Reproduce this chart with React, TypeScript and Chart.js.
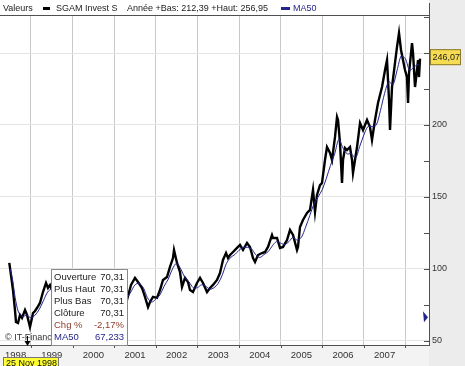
import React, { useEffect, useRef } from "react";
import { Chart, registerables } from "chart.js";

Chart.register(...registerables);

// ---- data ----
const priceDates = [
  1998.478, 1998.519, 1998.567, 1998.615, 1998.639, 1998.688, 1998.736, 1998.784, 1998.856, 1998.904,
  1998.976, 1999.024, 1999.048, 1999.096, 1999.144, 1999.216, 1999.288, 1999.361, 1999.409, 1999.457,
  1999.505, 1999.6, 1999.7, 1999.8, 1999.9, 2000.0, 2000.1, 2000.2, 2000.3, 2000.4,
  2000.5, 2000.6, 2000.7, 2000.8, 2000.9, 2001.0, 2001.1, 2001.2, 2001.308, 2001.404,
  2001.5, 2001.572, 2001.668, 2001.74, 2001.813, 2001.861, 2001.933, 2002.029, 2002.101, 2002.173,
  2002.269, 2002.341, 2002.413, 2002.438, 2002.51, 2002.582, 2002.63, 2002.702, 2002.774, 2002.822,
  2002.894, 2002.99, 2003.063, 2003.135, 2003.231, 2003.303, 2003.375, 2003.471, 2003.543, 2003.615,
  2003.688, 2003.736, 2003.784, 2003.856, 2003.952, 2004.024, 2004.096, 2004.192, 2004.264, 2004.337,
  2004.385, 2004.457, 2004.553, 2004.625, 2004.697, 2004.793, 2004.817, 2004.913, 2004.986, 2005.058,
  2005.154, 2005.226, 2005.298, 2005.394, 2005.418, 2005.466, 2005.538, 2005.635, 2005.707, 2005.779,
  2005.827, 2005.875, 2005.947, 2005.995, 2006.067, 2006.115, 2006.188, 2006.236, 2006.308, 2006.356,
  2006.38, 2006.428, 2006.476, 2006.5, 2006.548, 2006.596, 2006.668, 2006.716, 2006.74, 2006.788,
  2006.837, 2006.909, 2006.981, 2007.029, 2007.077, 2007.149, 2007.197, 2007.269, 2007.341, 2007.389,
  2007.438, 2007.51, 2007.558, 2007.606, 2007.63, 2007.678, 2007.75, 2007.798, 2007.846, 2007.894,
  2007.942, 2007.99, 2008.038, 2008.063, 2008.087, 2008.159, 2008.183, 2008.231, 2008.279, 2008.303,
  2008.327, 2008.351,
];
const priceValues = [
  104.2, 95.8, 85.4, 71.5, 63.2, 62.5, 68.1, 66.0, 71.5, 68.1,
  59.7, 66.0, 69.4, 70.8, 72.9, 76.4, 84.0, 90.3, 86.8, 88.9,
  85.4, 83.0, 80.0, 84.0, 88.0, 91.0, 94.0, 90.0, 86.0, 89.0,
  92.0, 88.0, 85.0, 82.0, 79.0, 77.0, 80.0, 76.0, 78.5, 88.9,
  93.8, 91.0, 86.8, 80.6, 73.6, 77.1, 80.6, 79.9, 85.4, 92.4,
  94.4, 101.4, 107.6, 113.2, 104.2, 97.9, 87.5, 93.8, 91.0, 85.4,
  84.0, 90.3, 93.8, 90.3, 84.0, 86.8, 88.9, 92.4, 97.2, 106.3,
  111.1, 107.6, 109.7, 111.8, 114.6, 116.7, 113.2, 118.1, 115.3, 107.6,
  104.9, 109.7, 111.1, 111.8, 115.3, 123.6, 121.5, 121.5, 114.6, 115.3,
  120.1, 127.1, 123.6, 113.2, 115.3, 129.2, 134.0, 138.9, 141.0, 154.9,
  139.6, 151.4, 158.3, 159.7, 175.7, 184.7, 180.6, 175.7, 191.7, 205.6,
  203.5, 187.5, 159.7, 175.7, 184.0, 182.6, 184.7, 175.7, 166.7, 175.7,
  184.7, 201.4, 196.5, 200.0, 203.5, 198.6, 189.6, 203.5, 215.3, 220.8,
  226.4, 238.2, 245.1, 217.4, 196.5, 226.4, 243.1, 254.2, 263.9, 252.1,
  245.1, 238.2, 233.3, 215.3, 236.1, 256.9, 250.0, 226.4, 238.2, 245.1,
  233.3, 246.07,
];

const maDates = [
  1998.5, 1998.56, 1998.62, 1998.7, 1998.8, 1998.9, 1999.0, 1999.1, 1999.2, 1999.3,
  1999.4, 1999.5, 1999.7, 1999.9, 2000.1, 2000.3, 2000.5, 2000.7, 2000.9, 2001.1,
  2001.3, 2001.4, 2001.5, 2001.6, 2001.7, 2001.8, 2001.9, 2002.0, 2002.1, 2002.2,
  2002.3, 2002.4, 2002.5, 2002.6, 2002.7, 2002.8, 2002.9, 2003.0, 2003.1, 2003.2,
  2003.3, 2003.4, 2003.5, 2003.6, 2003.7, 2003.8, 2003.9, 2004.0, 2004.1, 2004.2,
  2004.3, 2004.4, 2004.5, 2004.6, 2004.7, 2004.8, 2004.9, 2005.0, 2005.1, 2005.2,
  2005.3, 2005.4, 2005.5, 2005.6, 2005.7, 2005.8, 2005.9, 2006.0, 2006.1, 2006.2,
  2006.3, 2006.4, 2006.5, 2006.6, 2006.7, 2006.8, 2006.9, 2007.0, 2007.1, 2007.2,
  2007.3, 2007.4, 2007.5, 2007.6, 2007.7, 2007.8, 2007.9, 2008.0, 2008.1, 2008.2,
  2008.3, 2008.35,
];
const maValues = [
  100, 92, 80, 70, 67, 68, 66, 68, 72, 78,
  84, 86, 84, 85, 88, 88, 87, 86, 82, 79,
  80, 84, 89, 90, 87, 80, 77, 79, 82, 88,
  93, 100, 104, 100, 94, 91, 87, 87, 89, 88,
  86, 87, 90, 96, 104, 108, 110, 113, 115, 115,
  114, 110, 108, 110, 112, 116, 119, 118, 117, 119,
  122, 120, 122, 129, 137, 145, 150, 155, 163, 172,
  180, 190, 184, 180, 180, 177, 185, 193, 199, 199,
  200, 210, 222, 230, 228, 238, 248, 246, 238, 240,
  242, 241,
];

const yearGridValues = [1999, 2000, 2001, 2002, 2003, 2004, 2005, 2006, 2007, 2008];
const xLabelPositions = [1998.63, 1999.5, 2000.5, 2001.5, 2002.5, 2003.5, 2004.5, 2005.5, 2006.5, 2007.5];
const xLabels = ["1998", "1999", "2000", "2001", "2002", "2003", "2004", "2005", "2006", "2007"];
const yTickValues = [50, 75, 100, 125, 150, 175, 200, 225, 250, 275];
const yLabelValues = [50, 100, 150, 200, 250];

const legendSeries = "SGAM Invest S";
const legendYear = "Année +Bas: 212,39 +Haut: 256,95";
const legendMA = "MA50";
const infoLabels = ["Ouverture", "Plus Haut", "Plus Bas", "Clôture", "Chg %", "MA50"];
const infoValues = ["70,31", "70,31", "70,31", "70,31", "-2,17%", "67,233"];
const cursorDate = "25 Nov 1998";
const cursorYear = 1998.9;
const lastValueLabel = "246,07";
const lastValue = 246.07;
const cursorMA = 67.233;

const X_MIN = 1998.255;
const X_MAX = 2008.567;
const Y_MIN = 47.2;
const Y_MAX = 276.4;

const FONT = "'Liberation Sans', Arial, sans-serif";
const BLUE = "#24248c";

const decor = {
  id: "decor",
  beforeDraw(chart: any) {
    const { ctx, chartArea: a, width, height } = chart;
    ctx.save();
    ctx.fillStyle = "#ffffff";
    ctx.fillRect(0, 0, width, height);
    ctx.fillStyle = "#ececec";
    ctx.fillRect(a.right, 0, width - a.right, height);
    ctx.fillStyle = "#f3f3f3";
    ctx.fillRect(0, a.bottom, a.right, height - a.bottom);
    ctx.restore();
  },
  afterDraw(chart: any) {
    const { ctx, chartArea: a } = chart;
    const xs = chart.scales.x;
    const ys = chart.scales.y;
    ctx.save();
    // borders
    ctx.strokeStyle = "#505050";
    ctx.lineWidth = 1;
    ctx.beginPath();
    ctx.moveTo(0, a.top + 0.5);
    ctx.lineTo(a.right, a.top + 0.5);
    ctx.moveTo(a.right + 0.5, 3);
    ctx.lineTo(a.right + 0.5, a.bottom + 1);
    ctx.moveTo(0, a.bottom + 0.5);
    ctx.lineTo(a.right, a.bottom + 0.5);
    ctx.stroke();
    // y ticks inside
    ctx.beginPath();
    yTickValues.forEach((v) => {
      const y = Math.round(ys.getPixelForValue(v)) + 0.5;
      ctx.moveTo(a.right - 5, y);
      ctx.lineTo(a.right, y);
    });
    // x ticks below
    yearGridValues.forEach((v) => {
      const x = Math.round(xs.getPixelForValue(v)) + 0.5;
      ctx.moveTo(x, a.bottom);
      ctx.lineTo(x, a.bottom + 3);
    });
    ctx.stroke();

    // legend row
    ctx.font = `9px ${FONT}`;
    ctx.textBaseline = "middle";
    ctx.fillStyle = "#222";
    ctx.fillText("Valeurs", 3, 8.5);
    ctx.fillStyle = "#000";
    ctx.fillRect(43, 7, 7, 3);
    ctx.fillStyle = "#222";
    ctx.fillText(legendSeries, 56, 8.5);
    ctx.fillText(legendYear, 127, 8.5);
    ctx.fillStyle = BLUE;
    ctx.fillRect(281, 7, 9, 3);
    ctx.fillText(legendMA, 293, 8.5);

    // copyright
    ctx.fillStyle = "#333";
    ctx.font = `9px ${FONT}`;
    ctx.fillText("© IT-Finance", 5, 338);

    // info box
    ctx.fillStyle = "#ffffff";
    ctx.fillRect(51, 269, 77, 77);
    ctx.strokeStyle = "#8a8a8a";
    ctx.strokeRect(51.5, 269.5, 76, 76);
    ctx.font = `9.5px ${FONT}`;
    infoLabels.forEach((lab, i) => {
      const y = 277 + i * 12.1;
      const col = i === 4 ? "#8c3c2c" : i === 5 ? BLUE : "#222";
      ctx.fillStyle = col;
      ctx.textAlign = "left";
      ctx.fillText(lab, 54, y);
      ctx.textAlign = "right";
      ctx.fillText(infoValues[i], 124, y);
    });
    ctx.textAlign = "left";

    // cursor arrow
    const cx = Math.round(xs.getPixelForValue(cursorYear)) + 0.5;
    ctx.strokeStyle = "#000";
    ctx.beginPath();
    ctx.moveTo(cx, 336);
    ctx.lineTo(cx, 344);
    ctx.stroke();
    ctx.fillStyle = "#000";
    ctx.beginPath();
    ctx.moveTo(cx - 3, 341);
    ctx.lineTo(cx + 3, 341);
    ctx.lineTo(cx, 346);
    ctx.closePath();
    ctx.fill();

    // date label
    ctx.font = `9px ${FONT}`;
    ctx.fillStyle = "#ffff33";
    ctx.fillRect(3, 357, 55, 10);
    ctx.strokeStyle = "#777";
    ctx.strokeRect(3.5, 357.5, 55, 10);
    ctx.fillStyle = "#111";
    ctx.fillText(cursorDate, 6, 363.5);

    // last value label
    const ly = ys.getPixelForValue(lastValue) - 1.5;
    ctx.fillStyle = "#f6dc52";
    ctx.fillRect(430, ly - 8, 31, 16);
    ctx.strokeStyle = "#8a7a30";
    ctx.strokeRect(430.5, ly - 7.5, 30, 15);
    ctx.fillStyle = "#222";
    ctx.fillText(lastValueLabel, 432.5, ly + 0.5);

    // MA marker
    const my = ys.getPixelForValue(cursorMA);
    ctx.fillStyle = BLUE;
    ctx.beginPath();
    ctx.moveTo(a.right - 6, my - 5);
    ctx.lineTo(a.right - 1, my + 1);
    ctx.lineTo(a.right - 5, my + 6);
    ctx.closePath();
    ctx.fill();
    ctx.restore();
  },
};

export default function App() {
  const ref = useRef<HTMLCanvasElement | null>(null);
  useEffect(() => {
    if (!ref.current) return;
    const chart = new Chart(ref.current, {
      type: "line",
      data: {
        datasets: [
          {
            label: legendMA,
            data: maDates.map((d, i) => ({ x: d, y: maValues[i] })),
            borderColor: BLUE,
            borderWidth: 1,
            pointRadius: 0,
            tension: 0.3,
          },
          {
            label: legendSeries,
            data: priceDates.map((d, i) => ({ x: d, y: priceValues[i] })),
            borderColor: "#000000",
            borderWidth: 2.4,
            pointRadius: 0,
            tension: 0,
          },
        ],
      },
      options: {
        responsive: false,
        maintainAspectRatio: false,
        animation: false,
        layout: { padding: { top: 15, left: 0, right: 0, bottom: 0 } },
        plugins: { legend: { display: false }, tooltip: { enabled: false } },
        scales: {
          x: {
            type: "linear",
            min: X_MIN,
            max: X_MAX,
            afterBuildTicks: (s: any) => {
              const all = [...yearGridValues, ...xLabelPositions].sort((p, q) => p - q);
              s.ticks = all.map((v) => ({ value: v }));
            },
            afterFit: (s: any) => {
              s.height = 21;
            },
            border: { display: false },
            grid: {
              drawTicks: false,
              color: (c: any) =>
                c.tick && yearGridValues.includes(c.tick.value) ? "#c9c9c9" : "rgba(0,0,0,0)",
              lineWidth: 1,
            },
            ticks: {
              autoSkip: false,
              maxRotation: 0,
              padding: 5,
              color: "#333",
              font: { family: FONT, size: 9.5 },
              callback: (v: any) => {
                const i = xLabelPositions.findIndex((p) => Math.abs(p - Number(v)) < 1e-6);
                return i >= 0 ? xLabels[i] : "";
              },
            },
          },
          y: {
            type: "linear",
            position: "right",
            min: Y_MIN,
            max: Y_MAX,
            afterBuildTicks: (s: any) => {
              s.ticks = yTickValues.map((v) => ({ value: v }));
            },
            afterFit: (s: any) => {
              s.width = 36;
            },
            border: { display: false },
            grid: {
              drawTicks: false,
              color: (c: any) =>
                c.tick && yLabelValues.includes(c.tick.value) ? "#e4e4e4" : "rgba(0,0,0,0)",
            },
            ticks: {
              padding: 3,
              color: "#333",
              font: { family: FONT, size: 9 },
              callback: (v: any) => (yLabelValues.includes(Number(v)) ? String(v) : ""),
            },
          },
        },
      },
      plugins: [decor],
    });
    return () => chart.destroy();
  }, []);
  return (
    <div style={{ position: "fixed", left: 0, top: 0, width: 465, height: 366 }}>
      <canvas ref={ref} width={465} height={366} style={{ width: 465, height: 366, display: "block" }} />
    </div>
  );
}
